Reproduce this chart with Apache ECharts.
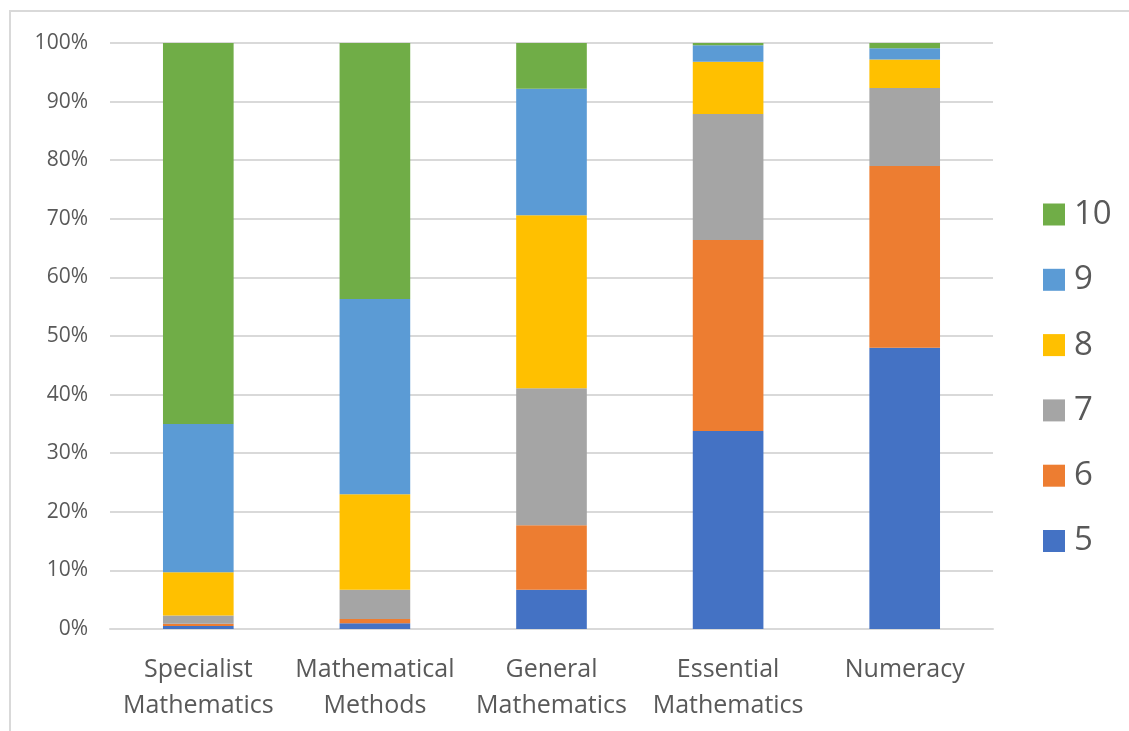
<!DOCTYPE html>
<html>
<head>
<meta charset="utf-8">
<script src="https://cdn.jsdelivr.net/npm/echarts@6/dist/echarts.min.js"></script>
<style>
  html, body { margin: 0; padding: 0; background: #fff; }
  #frame { position: absolute; left: 9px; top: 10px; width: 1120px; height: 721px;
           border-top: 2px solid #d9d9d9; border-left: 2px solid #d9d9d9; }
  #chart { position: absolute; left: 0; top: 0; width: 1129px; height: 731px; }
</style>
</head>
<body>
<div id="frame"></div>
<div id="chart"></div>
<script>
// subjects along the x axis
const subjects = ["Specialist\nMathematics", "Mathematical\nMethods", "General\nMathematics", "Essential\nMathematics", "Numeracy"];
// share of students per grade band (%)
const band5  = [0.5, 1.0, 6.7, 33.8, 48.0];
const band6  = [0.4, 0.7, 11.0, 32.6, 31.0];
const band7  = [1.4, 5.0, 23.4, 21.5, 13.3];
const band8  = [7.4, 16.3, 29.5, 8.9, 4.9];
const band9  = [25.3, 33.3, 21.6, 2.8, 1.9];
const band10 = [65.0, 43.7, 7.8, 0.4, 0.9];

const names = ["5", "6", "7", "8", "9", "10"];
const colors = ["#4472c4", "#ed7d31", "#a5a5a5", "#ffc000", "#5b9bd5", "#70ad47"];
const values = [band5, band6, band7, band8, band9, band10];

const font = "'Open Sans', 'Noto Sans', sans-serif";

const chart = echarts.init(document.getElementById("chart"));
chart.setOption({
  animation: false,
  textStyle: { fontFamily: font },
  grid: { left: 110, right: 136, top: 43, bottom: 102, containLabel: false },
  legend: {
    orient: "vertical",
    left: 1038,
    top: 193,
    itemWidth: 22,
    itemHeight: 22,
    itemGap: 32.3,
    icon: "rect",
    data: ["10", "9", "8", "7", "6", "5"],
    textStyle: { fontSize: 33, color: "#595959", lineHeight: 28, padding: [0, 0, 0, 4], fontFamily: font }
  },
  xAxis: {
    type: "category",
    data: subjects,
    axisLine: { lineStyle: { color: "#d9d9d9", width: 2 } },
    axisTick: { show: false },
    axisLabel: { fontSize: 25, color: "#595959", lineHeight: 36, margin: 23, interval: 0, fontFamily: font }
  },
  yAxis: {
    type: "value",
    min: 0,
    max: 100,
    interval: 10,
    axisLine: { show: false },
    axisTick: { show: false },
    splitLine: { lineStyle: { color: "#d9d9d9", width: 2 } },
    axisLabel: { formatter: "{value}%", fontSize: 21, color: "#595959", margin: 22, fontFamily: font }
  },
  series: names.map((n, i) => ({
    name: n,
    type: "bar",
    stack: "total",
    barWidth: "40%",
    itemStyle: { color: colors[i] },
    data: values[i]
  }))
});
</script>
</body>
</html>
